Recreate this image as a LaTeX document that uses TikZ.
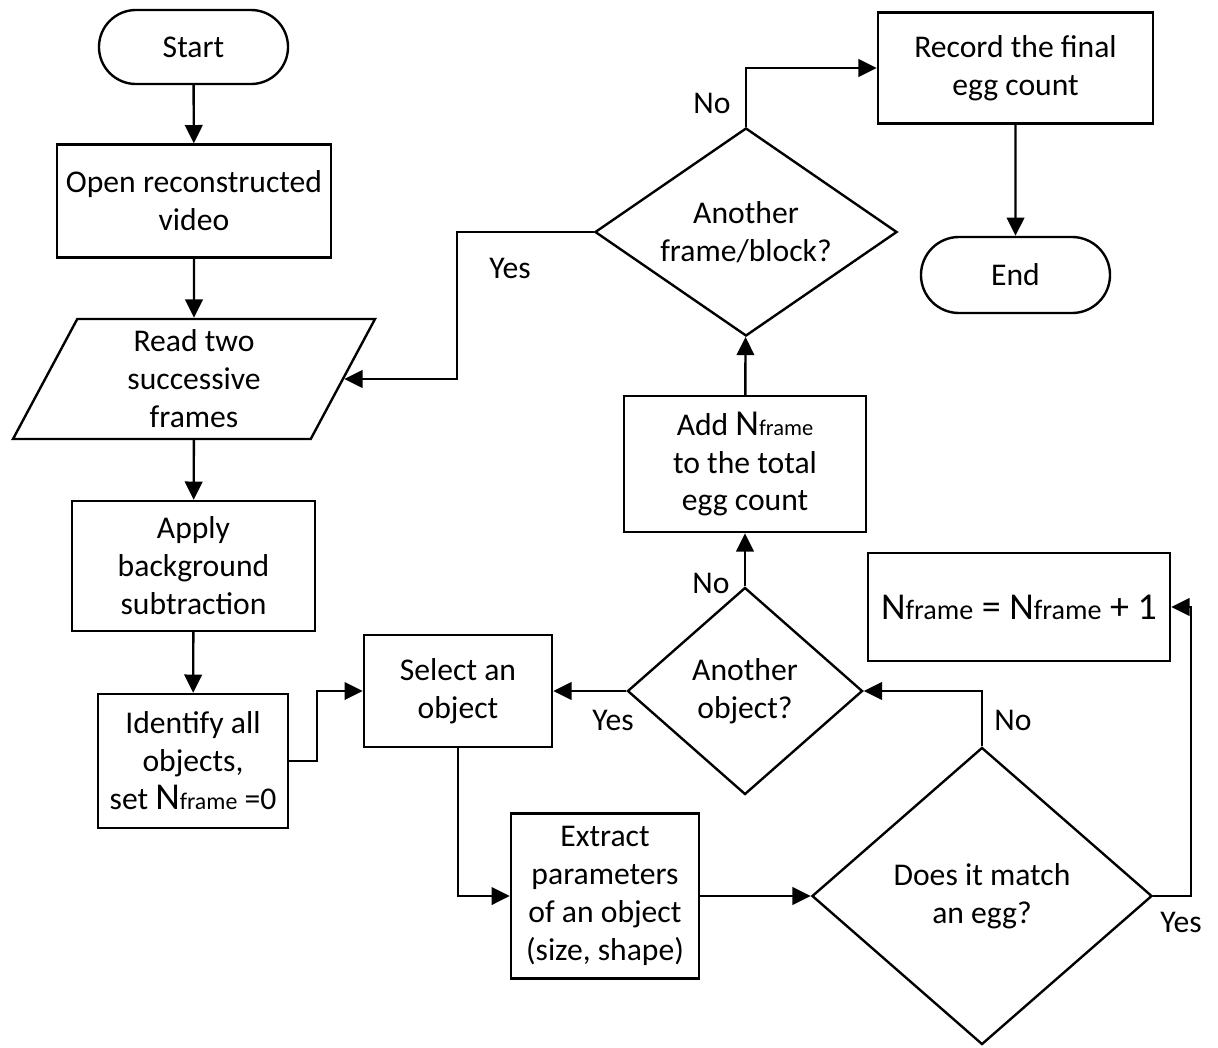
\documentclass[tikz,border=0pt]{standalone}
\usepackage{fontspec}
\setmainfont{Carlito}
\usetikzlibrary{shapes.geometric, shapes.misc, arrows.meta}

\newcommand{\Nfr}[2]{{\fontsize{#1}{27}\selectfont N}{\fontsize{#2}{27}\selectfont frame}}

\tikzset{
    base/.style={draw, line width=1.7pt, align=center, inner sep=0pt,
        font=\fontsize{22.5}{27}\selectfont},
    box/.style={base, rectangle},
    term/.style={base, rounded rectangle, minimum width=4.725cm, minimum height=1.85cm},
    decide/.style={base, diamond},
    inout/.style={base, trapezium, trapezium left angle=69.5, trapezium right angle=110.5,
        trapezium stretches=true},
    arr/.style={line width=1.7pt, -{Triangle[length=13pt, width=12.5pt]}},
    lbl/.style={font=\fontsize{22.5}{27}\selectfont}
}

\begin{document}
\begin{tikzpicture}[x=0.025cm, y=-0.025cm]

\useasboundingbox (0,0) rectangle (1218,1047);

% ==== LEFT COLUMN ====
\node[term] (start) at (193.5,47) {Start};
\node[box, minimum width=6.85cm, minimum height=2.825cm] (open) at (194,201)
    {Open reconstructed\\video};
\node[inout, minimum width=9.05cm, minimum height=3cm] (read) at (194,379)
    {Read two\\successive\\frames};
\node[box, minimum width=6.075cm, minimum height=3.25cm] (apply) at (193.5,566)
    {Apply\\background\\subtraction};
\node[box, minimum width=4.75cm, minimum height=3.35cm] (ident) at (193,761)
    {Identify all\\objects,\\set \Nfr{27}{17} =0};

% ==== OBJECT LOOP ====
\node[box, minimum width=4.7cm, minimum height=2.8cm] (select) at (458,691)
    {Select an\\object};
\node[box, minimum width=4.7cm, minimum height=4.125cm] (extract) at (605,896)
    {Extract\\parameters\\of an object\\(size, shape)};
\node[decide, aspect=1.14, minimum width=8.5cm, minimum height=7.425cm] (match) at (982,896)
    {Does it match\\an egg?};
\node[box, minimum width=7.55cm, minimum height=2.7cm, font=\fontsize{27}{30}\selectfont] (incr) at (1019,607)
    {\Nfr{27}{20} = \Nfr{27}{20} + 1};
\node[decide, aspect=1.135, minimum width=5.875cm, minimum height=5.175cm] (anobj) at (745,691)
    {Another\\object?};

% ==== FRAME LOOP ====
\node[box, minimum width=6.05cm, minimum height=3.4cm] (add) at (745,464)
    {Add \Nfr{26}{16}\\to the total\\egg count};
\node[decide, aspect=1.46, minimum width=7.55cm, minimum height=5.2cm] (anfr) at (746,232)
    {Another\\frame/block?};
\node[box, minimum width=6.875cm, minimum height=2.775cm] (record) at (1015.5,68)
    {Record the final\\egg count};
\node[term, minimum height=1.9cm] (end) at (1015.5,275) {End};

% ==== CONNECTORS ====
\draw[arr] (start) -- (open);
\draw[arr] (open) -- (read);
\draw[arr] (read) -- (apply);
\draw[arr] (apply) -- (ident);
\draw[arr] (ident.east) -- ++(28,0) |- (select.west);
\draw[arr] (select.south) |- (extract.west);
\draw[arr] (extract) -- (match);
\draw[arr] (match.east) -- ++(38,0) |- (incr.east);
\draw[arr] (match.north) |- (anobj.east);
\draw[arr] (anobj.west) -- (select.east);
\draw[arr] (anobj.north) -- (add.south);
\draw[arr] (add) -- (anfr);
\draw[arr] (anfr.west) -- ++(-137,0) |- (read.right side);
\draw[arr] (anfr.north) |- (record.west);
\draw[arr] (record) -- (end);

% ==== LABELS ====
\node[lbl] (noFrame) at (712,103) {No};
\node[lbl] (yesFrame) at (510,268) {Yes};
\node[lbl] (noObj) at (711,583) {No};
\node[lbl] (yesObj) at (613,720) {Yes};
\node[lbl] (noEgg) at (1013,720) {No};
\node[lbl] (yesEgg) at (1181,922) {Yes};

\end{tikzpicture}
\end{document}
